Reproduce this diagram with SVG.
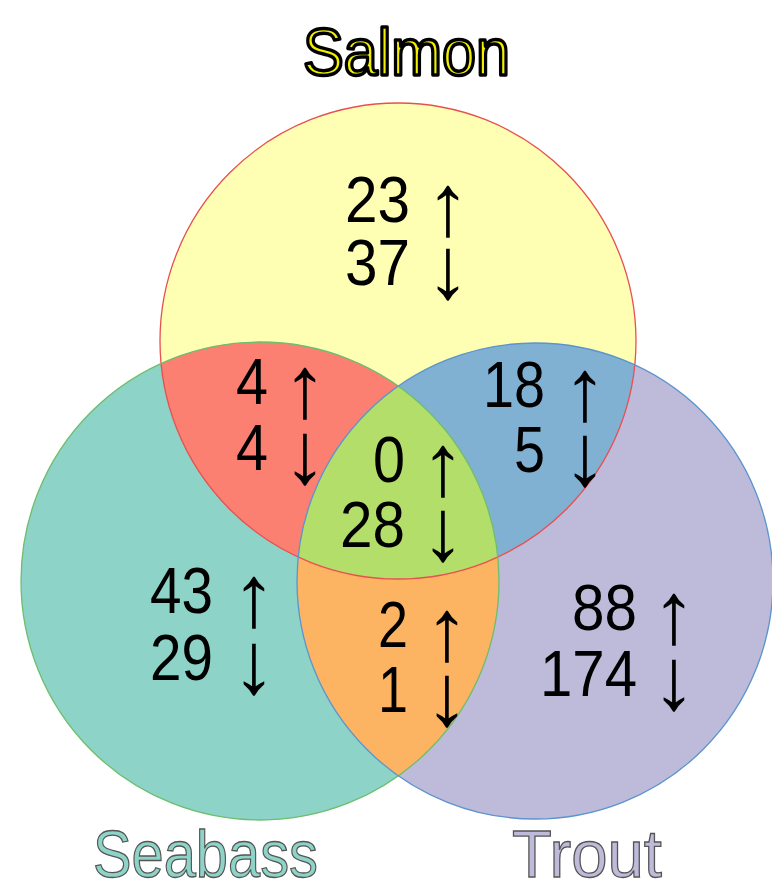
<svg xmlns="http://www.w3.org/2000/svg" width="772" height="885" viewBox="0 0 772 885">
<style>
.num{font-family:"Liberation Sans",Arial,sans-serif;font-size:64px;fill:#000;text-anchor:end}
.arr{font-family:"Liberation Sans",Arial,sans-serif;font-size:88px;fill:#000;text-anchor:middle}
.lbl{font-family:"Liberation Sans",Arial,sans-serif;font-size:66px}
.outline{fill:none;stroke-width:1.3}
</style>
<defs>
<circle id="cSal" cx="398" cy="341" r="238"/>
<circle id="cSea" cx="260" cy="581" r="239"/>
<circle id="cTro" cx="535" cy="581" r="238"/>
<clipPath id="clipSal"><use href="#cSal"/></clipPath>
<clipPath id="clipSea"><use href="#cSea"/></clipPath>
<clipPath id="clipTro"><use href="#cTro"/></clipPath>
</defs>
<rect width="772" height="885" fill="#fff"/>
<g id="regions">
<use href="#cSal" fill="#FFFFB3"/>
<use href="#cSea" fill="#8DD3C7"/>
<use href="#cTro" fill="#BEBADA"/>
<use href="#cSea" fill="#FB8072" clip-path="url(#clipSal)"/>
<use href="#cTro" fill="#80B1D3" clip-path="url(#clipSal)"/>
<use href="#cTro" fill="#FDB462" clip-path="url(#clipSea)"/>
<g clip-path="url(#clipSal)"><use href="#cTro" fill="#B3DE69" clip-path="url(#clipSea)"/></g>
</g>
<g id="outlines">
<use href="#cSal" class="outline" stroke="#E8504F"/>
<use href="#cSea" class="outline" stroke="#6DBE6D"/>
<use href="#cTro" class="outline" stroke="#5B94CF"/>
</g>
<g id="salmon-only">
<text class="num" x="410" y="222" textLength="65" lengthAdjust="spacingAndGlyphs">23</text>
<text class="num" x="410" y="285" textLength="65" lengthAdjust="spacingAndGlyphs">37</text>
<text class="arr" x="448" y="235">↑</text>
<text class="arr" x="448" y="298">↓</text>
</g>
<g id="salmon-seabass">
<text class="num" x="268" y="404" textLength="32" lengthAdjust="spacingAndGlyphs">4</text>
<text class="num" x="268" y="470" textLength="32" lengthAdjust="spacingAndGlyphs">4</text>
<text class="arr" x="305" y="417">↑</text>
<text class="arr" x="305" y="483">↓</text>
</g>
<g id="salmon-trout">
<text class="num" x="545" y="407" textLength="62" lengthAdjust="spacingAndGlyphs">18</text>
<text class="num" x="545" y="472" textLength="31" lengthAdjust="spacingAndGlyphs">5</text>
<text class="arr" x="585" y="420">↑</text>
<text class="arr" x="585" y="485">↓</text>
</g>
<g id="all-three">
<text class="num" x="405" y="482" textLength="32" lengthAdjust="spacingAndGlyphs">0</text>
<text class="num" x="405" y="547" textLength="65" lengthAdjust="spacingAndGlyphs">28</text>
<text class="arr" x="443" y="495">↑</text>
<text class="arr" x="443" y="560">↓</text>
</g>
<g id="seabass-only">
<text class="num" x="213" y="613" textLength="63" lengthAdjust="spacingAndGlyphs">43</text>
<text class="num" x="213" y="680" textLength="63" lengthAdjust="spacingAndGlyphs">29</text>
<text class="arr" x="254" y="626">↑</text>
<text class="arr" x="254" y="693">↓</text>
</g>
<g id="seabass-trout">
<text class="num" x="408" y="647" textLength="30" lengthAdjust="spacingAndGlyphs">2</text>
<text class="num" x="408" y="712" textLength="30" lengthAdjust="spacingAndGlyphs">1</text>
<text class="arr" x="447" y="660">↑</text>
<text class="arr" x="447" y="725">↓</text>
</g>
<g id="trout-only">
<text class="num" x="637" y="630" textLength="65" lengthAdjust="spacingAndGlyphs">88</text>
<text class="num" x="637" y="696" textLength="97" lengthAdjust="spacingAndGlyphs">174</text>
<text class="arr" x="674" y="643">↑</text>
<text class="arr" x="674" y="709">↓</text>
</g>
<g id="label-salmon">
<text class="lbl" x="303" y="75" textLength="207" lengthAdjust="spacingAndGlyphs" fill="#F2F000" stroke="#000" stroke-width="3.5" stroke-linejoin="round">Salmon</text>
</g>
<g id="label-seabass">
<text class="lbl" x="93" y="877" textLength="225" lengthAdjust="spacingAndGlyphs" fill="#8DD3C7" stroke="#555" stroke-width="1.3">Seabass</text>
</g>
<g id="label-trout">
<text class="lbl" x="512" y="877" textLength="150" lengthAdjust="spacingAndGlyphs" fill="#BEBADA" stroke="#555" stroke-width="1.3">Trout</text>
</g>
</svg>
